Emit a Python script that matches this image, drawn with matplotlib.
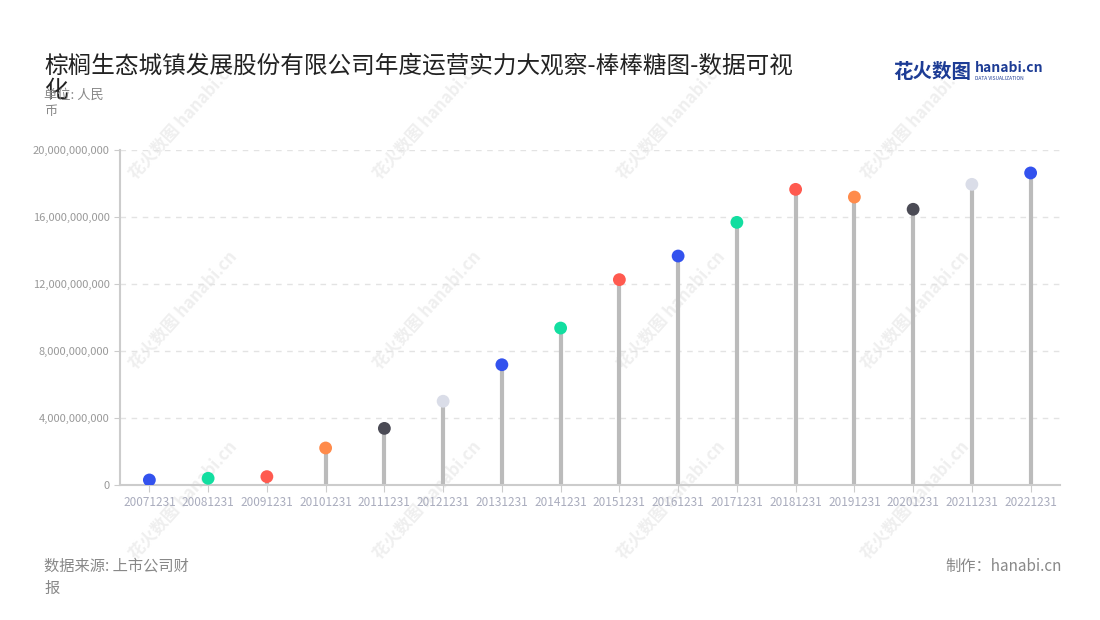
import matplotlib.pyplot as plt
from matplotlib.ticker import FuncFormatter, MultipleLocator

plt.rcParams['font.family'] = ['Noto Sans CJK SC', 'DejaVu Sans']

# 年度数据（单位：人民币）
dates = ["20071231", "20081231", "20091231", "20101231", "20111231", "20121231",
         "20131231", "20141231", "20151231", "20161231", "20171231", "20181231",
         "20191231", "20201231", "20211231", "20221231"]
values = [0.30e9, 0.40e9, 0.50e9, 2.21e9, 3.38e9, 5.00e9, 7.18e9, 9.37e9,
          12.26e9, 13.67e9, 15.68e9, 17.65e9, 17.19e9, 16.46e9, 17.95e9, 18.63e9]
dot_colors = ["#3352ee", "#12dea0", "#ff5a4f", "#ff8b4b", "#4b4b55", "#dadde8",
              "#3352ee", "#12dea0", "#ff5a4f", "#3352ee", "#12dea0", "#ff5a4f",
              "#ff8b4b", "#4b4b55", "#dadde8", "#3352ee"]

fig = plt.figure(figsize=(11, 6.2), dpi=100)
ax = fig.add_axes([120 / 1100, 1 - 485 / 620, 940 / 1100, 335 / 620])
ax.set_zorder(1)

# 水印（放在坐标轴下面）
for wx in [183, 427, 671, 915]:
    for wy in [120, 310, 500]:
        fig.text(wx / 1100, 1 - wy / 620, "花火数图 hanabi.cn", rotation=48,
                 ha='center', va='center', fontsize=12, color='#efefef',
                 fontweight='bold', zorder=-1)

x = range(len(dates))
ax.vlines(x, 0, values, color='#bbbbbb', linewidth=3, zorder=2)
ax.scatter(x, values, s=85, c=dot_colors, zorder=3, linewidths=0)

ax.set_xlim(-0.5, len(dates) - 0.5)
ax.set_ylim(0, 20e9)
ax.yaxis.set_major_locator(MultipleLocator(4e9))
ax.yaxis.set_major_formatter(FuncFormatter(lambda v, p: f"{v:,.0f}"))
ax.set_xticks(list(x))
ax.set_xticklabels(dates)
ax.grid(axis='y', linestyle=(0, (4, 4)), color='#e3e3e3', linewidth=1)
ax.set_axisbelow(True)
ax.patch.set_alpha(0)

for s in ['top', 'right']:
    ax.spines[s].set_visible(False)
for s in ['left', 'bottom']:
    ax.spines[s].set_color('#cccccc')
    ax.spines[s].set_linewidth(1.5)
ax.tick_params(axis='x', colors='#cccccc', labelcolor='#a9acbd', labelsize=8.5, length=5, pad=3)
ax.tick_params(axis='y', colors='#cccccc', labelcolor='#999999', labelsize=8, length=4)

fig.text(44 / 1100, 1 - 55 / 620, "棕榈生态城镇发展股份有限公司年度运营实力大观察-棒棒糖图-数据可视\n化",
         fontsize=17, color='#222222', va='top', ha='left', linespacing=1.05)
fig.text(44 / 1100, 1 - 89 / 620, "单位: 人民\n币", fontsize=9.5, color='#888888',
         va='top', ha='left', linespacing=1.25)
fig.text(44 / 1100, 1 - 558 / 620, "数据来源: 上市公司财\n报", fontsize=11, color='#888888',
         va='top', ha='left', linespacing=1.4)
fig.text(1062 / 1100, 1 - 558 / 620, "制作：hanabi.cn", fontsize=11, color='#888888',
         va='top', ha='right')

# logo
fig.text(893 / 1100, 1 - 72 / 620, "花火数图", fontsize=14, color='#1d3c95',
         fontweight='bold', va='center', ha='left')
fig.text(975 / 1100, 1 - 68 / 620, "hanabi.cn", fontsize=10, color='#1d3c95',
         fontweight='bold', va='center', ha='left')
fig.text(975 / 1100, 1 - 78 / 620, "DATA VISUALIZATION", fontsize=3.5, color='#1d3c95',
         va='center', ha='left')

fig.savefig("out.png", dpi=100)
